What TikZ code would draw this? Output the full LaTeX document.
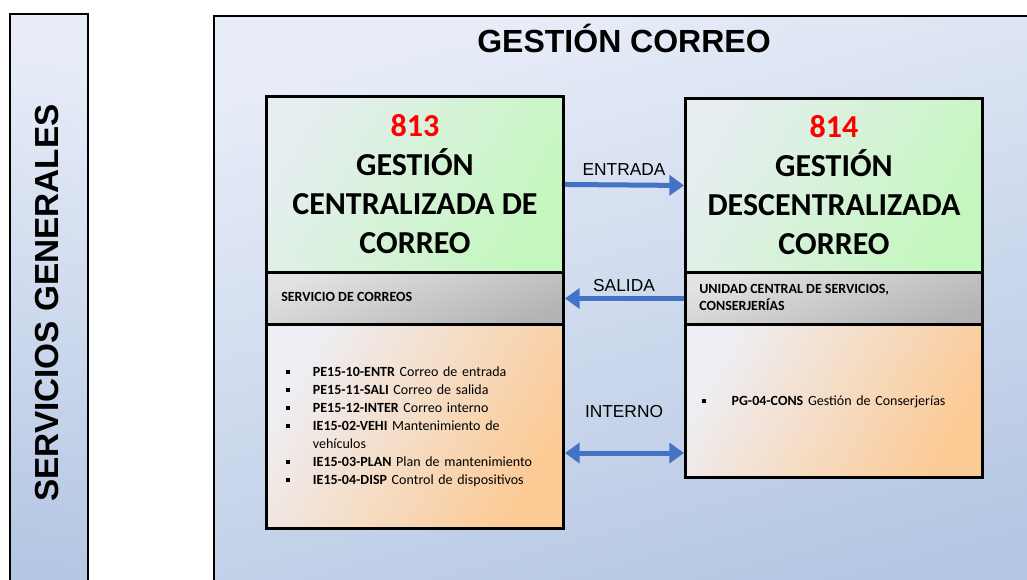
\documentclass[tikz,border=0pt]{standalone}
\usepackage{fontspec}
\setmainfont{Carlito}
\newfontfamily\arialfont{Liberation Sans}
\usepackage{enumitem}
\usetikzlibrary{arrows.meta}

\definecolor{framelight}{HTML}{E8EDF8}
\definecolor{framedark}{HTML}{B5C7E3}
\definecolor{greenlight}{HTML}{E6EEF0}
\definecolor{greendark}{HTML}{C4F7BE}
\definecolor{greylight}{HTML}{E2E2E2}
\definecolor{greydark}{HTML}{B4B4B4}
\definecolor{orangelight}{HTML}{EEEEF4}
\definecolor{orangedark}{HTML}{FCCA94}
\definecolor{arrowblue}{HTML}{4472C4}

\begin{document}
\begin{tikzpicture}[x=0.75pt, y=-0.75pt,
        section/.style={draw=black, line width=2.2pt, inner sep=0pt, anchor=north west, minimum width=222.75pt},
        greensec/.style={section, left color=greenlight, right color=greendark, shading angle=60},
        greysec/.style={section, top color=greylight, bottom color=greydark, shading angle=20},
        orangesec/.style={section, left color=orangelight, right color=orangedark, shading angle=60},
        headtext/.style={font=\bfseries\fontsize{24}{29.25}\selectfont, align=center},
        unittext/.style={font=\bfseries\fontsize{10.5}{12.75}\selectfont, align=left, anchor=west, inner sep=0pt},
        flowarrow/.style={draw=arrowblue, line width=3.75pt, -{Triangle[length=11pt, width=15pt]}},
        flowlabel/.style={font=\arialfont\fontsize{13}{15}\selectfont, inner sep=0pt}
    ]
        \clip (0, 0) rectangle (1027, 579);

        % left bar and main frame
        \shade[top color=framelight, bottom color=framedark, shading angle=-10, draw=black, line width=1.6pt]
            (10, 14) rectangle (88, 600);
        \node[font=\arialfont\bfseries\fontsize{25}{28}\selectfont, rotate=90] (sg) at (47, 303) {SERVICIOS GENERALES};

        \shade[top color=framelight, bottom color=framedark, shading angle=15, draw=black, line width=1.6pt]
            (214, 16) rectangle (1050, 600);
        \node[font=\arialfont\bfseries\fontsize{24}{28}\selectfont] (title) at (624, 38) {GESTIÓN CORREO};

        % 813
        \node[greensec, minimum height=132pt] (g813) at (265, 95) {};
        \node[greysec, minimum height=39pt] (s813) at (265, 271) {};
        \node[orangesec, minimum height=153pt] (l813) at (265, 323) {};

        % 814
        \node[greensec, minimum height=130.5pt] (g814) at (684, 97) {};
        \node[greysec, minimum height=39pt] (s814) at (684, 271) {};
        \node[orangesec, minimum height=114.75pt] (l814) at (684, 323) {};

        \node[headtext] (t813) at (g813.center) {\textcolor{red}{813}\\GESTIÓN\\CENTRALIZADA DE\\CORREO};
        \node[headtext] (t814) at (g814.center) {\textcolor{red}{814}\\GESTIÓN\\DESCENTRALIZADA\\CORREO};

        \node[unittext] (u813) at (281, 297) {SERVICIO DE CORREOS};
        \node[unittext] (u814) at (699, 297) {UNIDAD CENTRAL DE SERVICIOS,\\CONSERJERÍAS};

        \node[anchor=north west, inner sep=0pt, text width=205pt, font=\fontsize{10.5}{13.5}\selectfont] (p813) at (286, 358) {%
            \begin{itemize}[leftmargin=20pt, labelsep=17pt, itemsep=0pt, topsep=0pt, parsep=0pt, partopsep=0pt, label={\rule[1.5pt]{3pt}{3pt}}]
                \item \textbf{PE15-10-ENTR} Correo de entrada
                \item \textbf{PE15-11-SALI} Correo de salida
                \item \textbf{PE15-12-INTER} Correo interno
                \item \textbf{IE15-02-VEHI} Mantenimiento de\newline vehículos
                \item \textbf{IE15-03-PLAN} Plan de mantenimiento
                \item \textbf{IE15-04-DISP} Control de dispositivos
            \end{itemize}};
        \node[anchor=north west, inner sep=0pt, text width=205pt, font=\fontsize{10.5}{13.5}\selectfont] (p814) at (702, 387) {%
            \begin{itemize}[leftmargin=22pt, labelsep=19pt, itemsep=0pt, topsep=0pt, parsep=0pt, partopsep=0pt, label={\rule[1.5pt]{3pt}{3pt}}]
                \item \textbf{PG-04-CONS} Gestión de Conserjerías
            \end{itemize}};

        % flows
        \coordinate (int) at (624, 453);
        \draw[flowarrow] (g813.east) -- (g814.west);
        \draw[flowarrow] (s814.west) -- (s813.east);
        \draw[flowarrow, {Triangle[length=11pt, width=15pt]}-{Triangle[length=11pt, width=15pt]}] (int -| l813.east) -- (int -| l814.west);

        \node[flowlabel] (entrada) at (624, 170) {ENTRADA};
        \node[flowlabel] (salida) at (624, 286) {SALIDA};
        \node[flowlabel] (interno) at (624, 412) {INTERNO};
    \end{tikzpicture}
\end{document}
